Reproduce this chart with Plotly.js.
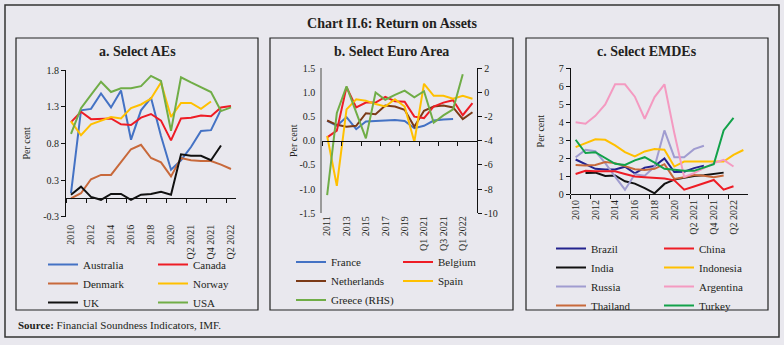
<!DOCTYPE html>
<html><head><meta charset="utf-8">
<script src="https://cdn.plot.ly/plotly-3.0.1.min.js"></script>
<style>html,body{margin:0;padding:0;background:#e9e8ee;}#chart{width:784px;height:345px;}</style>
</head><body><div id="chart"></div>
<script>
// ---------- Panel a: Select AEs ----------
const catsA = ['2010','2011','2012','2013','2014','2015','2016','2017','2018','2019','2020','Q1 2021','Q2 2021','Q3 2021','Q4 2021','Q1 2022','Q2 2022'];
const labelsA = ['2010','2012','2014','2016','2018','2020','Q2 2021','Q4 2021','Q2 2022'];
const australia = [0.07,1.20,1.22,1.43,1.24,1.47,0.80,1.20,1.37,0.85,0.39,0.52,0.70,0.92,0.93,1.21,null];
const canada    = [1.04,1.18,1.08,1.09,1.09,1.01,1.00,1.10,1.15,1.06,0.79,1.09,1.10,1.13,1.12,1.24,1.26];
const denmark   = [0.00,0.07,0.26,0.32,0.32,0.50,0.67,0.73,0.55,0.49,0.30,0.55,0.52,0.51,0.51,0.46,0.40];
const norway    = [1.05,0.86,1.01,1.06,1.11,1.09,1.23,1.28,1.36,1.58,1.11,1.30,1.30,1.22,1.32,null,null];
const uk        = [0.05,0.16,0.02,-0.02,0.06,0.06,-0.02,0.05,0.06,0.09,0.05,0.60,0.58,0.58,0.52,0.72,null];
const usa       = [0.88,1.23,1.41,1.59,1.45,1.50,1.50,1.53,1.67,1.60,0.92,1.65,1.58,1.52,1.45,1.19,1.24];
const yTicksA = [-0.25,0.25,0.75,1.25,1.75];
const yTextA  = ['-0.3','0.3','0.8','1.3','1.8'];

// ---------- Panel b: Select Euro Area ----------
const catsB = ['2011','2012','2013','2014','2015','2016','2017','2018','2019','2020','Q1 2021','Q2 2021','Q3 2021','Q4 2021','Q1 2022','Q2 2022'];
const labelsB = ['2011','2013','2015','2017','2019','Q1 2021','Q3 2021','Q1 2022'];
const france      = [0.41,0.31,0.49,0.24,0.40,0.41,0.42,0.43,0.41,0.26,0.31,0.42,0.44,0.45,null,null];
const belgium     = [0.07,0.21,1.11,0.69,0.79,0.79,0.91,0.82,0.81,0.50,0.47,0.71,0.79,0.84,0.53,0.78];
const netherlands = [0.42,0.33,0.29,0.31,0.57,0.55,0.73,0.71,0.64,0.29,0.62,0.71,0.73,0.69,0.45,0.59];
const spain       = [0.10,-0.93,0.65,0.86,0.83,0.76,0.71,0.86,0.71,-0.02,1.18,0.93,0.93,0.87,0.93,0.87];
const greece      = [-8.5,-1.7,0.5,-1.6,-3.8,0.0,-0.6,-0.2,0.15,-0.4,0.1,-2.5,-1.9,-1.4,1.5,null];
const yTicksB  = [-1.5,-1.0,-0.5,0.0,0.5,1.0,1.5];
const yTextB   = ['-1.5','-1.0','-0.5','0.0','0.5','1.0','1.5'];
const yTicksB2 = [-10,-8,-6,-4,-2,0,2];

// ---------- Panel c: Select EMDEs ----------
const catsC = ['2010','2011','2012','2013','2014','2015','2016','2017','2018','2019','2020','Q1 2021','Q2 2021','Q3 2021','Q4 2021','Q1 2022','Q2 2022','Q3 2022'];
const labelsC = ['2010','2012','2014','2016','2018','2020','Q2 2021','Q4 2021','Q2 2022'];
const brazil    = [1.92,1.66,1.40,1.37,1.37,1.52,1.15,1.47,1.56,1.98,1.22,1.24,1.44,1.58,null,null,null,null];
const china     = [1.11,1.29,1.27,1.27,1.26,1.11,0.97,0.93,0.90,0.86,0.76,0.24,0.42,0.60,0.78,0.24,0.43,null];
const india     = [null,1.17,1.19,1.00,1.03,0.71,0.58,0.33,0.04,0.56,0.80,0.91,1.00,1.04,1.12,1.19,null,null];
const indonesia = [2.61,2.84,3.05,3.02,2.71,2.33,2.09,2.37,2.50,2.46,1.53,1.81,1.81,1.85,1.85,1.81,2.18,2.45];
const russia    = [2.05,2.46,2.38,1.72,0.97,0.24,1.10,1.02,1.52,3.54,2.05,2.05,2.50,2.69,null,null,null,null];
const argentina = [3.99,3.91,4.35,4.99,6.11,6.11,5.42,4.19,5.40,6.11,3.40,0.95,1.16,1.44,1.72,1.90,1.53,null];
const thailand  = [1.62,1.59,1.62,1.78,1.72,1.53,1.38,1.34,1.40,1.66,0.84,0.93,1.06,1.01,0.93,1.03,null,null];
const turkey    = [3.02,2.28,2.33,2.00,1.68,1.62,1.87,2.05,1.75,1.40,1.34,1.29,1.29,1.47,1.66,3.54,4.24,null];

// ---------- styling / layout helpers ----------
const W = 784, H = 345;
const FONT = 'Liberation Serif, Times New Roman, serif';
const TXT = '#231f20';
const px = v => v / W, py = v => 1 - v / H;

const dom = {
  a: {x: [px(66), px(236)],    y: [py(216.7), py(70)]},
  b: {x: [px(322.3), px(477.3)], y: [py(213.3), py(68.3)]},
  c: {x: [px(570.7), px(748.3)], y: [py(194), py(68.3)]}
};

const traces = [];
function line(name, cats, ys, color, xa, ya, leg) {
  traces.push({type:'scatter', mode:'lines', name:name, x:cats, y:ys,
    xaxis:xa, yaxis:ya, legend:leg, connectgaps:false,
    line:{color:color, width:2}, hoverinfo:'skip'});
}
// panel a
line('Australia', catsA, australia, '#4472C4', 'x', 'y', 'legend');
line('Denmark',   catsA, denmark,   '#C8693B', 'x', 'y', 'legend');
line('UK',        catsA, uk,        '#111111', 'x', 'y', 'legend');
line('Canada',    catsA, canada,    '#EE1C25', 'x', 'y', 'legend2');
line('Norway',    catsA, norway,    '#FFC000', 'x', 'y', 'legend2');
line('USA',       catsA, usa,       '#70AD47', 'x', 'y', 'legend2');
// panel b
line('France',       catsB, france,      '#4472C4', 'x2', 'y2', 'legend3');
line('Netherlands',  catsB, netherlands, '#7B3A17', 'x2', 'y2', 'legend3');
line('Greece (RHS)', catsB, greece,      '#70AD47', 'x2', 'y4', 'legend3');
line('Belgium',      catsB, belgium,     '#EE1C25', 'x2', 'y2', 'legend4');
line('Spain',        catsB, spain,       '#FFC000', 'x2', 'y2', 'legend4');
// panel c
line('Brazil',    catsC, brazil,    '#23238E', 'x3', 'y3', 'legend5');
line('India',     catsC, india,     '#111111', 'x3', 'y3', 'legend5');
line('Russia',    catsC, russia,    '#A09CD0', 'x3', 'y3', 'legend5');
line('Thailand',  catsC, thailand,  '#C8693B', 'x3', 'y3', 'legend5');
line('China',     catsC, china,     '#EE1C25', 'x3', 'y3', 'legend6');
line('Indonesia', catsC, indonesia, '#FFC000', 'x3', 'y3', 'legend6');
line('Argentina', catsC, argentina, '#F49AC1', 'x3', 'y3', 'legend6');
line('Turkey',    catsC, turkey,    '#12A24A', 'x3', 'y3', 'legend6');

// helper (empty) traces so the tick-only category axes are built
function helper(cats, xa, ya) {
  traces.push({type:'scatter', mode:'lines', x:cats, y:cats.map(() => null),
    xaxis:xa, yaxis:ya, showlegend:false, hoverinfo:'skip'});
}
helper(catsA, 'x4', 'y');
helper(catsB, 'x5', 'y2');
helper(catsC, 'x6', 'y3');

const tickFont = {family:FONT, size:10, color:TXT};

function labelAxis(d, anchor, cats, labels, standoff) {
  return {domain:d.x, anchor:anchor, type:'category', categoryorder:'array', categoryarray:cats,
    range:[-0.5, cats.length - 0.5], tickmode:'array', tickvals:labels, ticktext:labels,
    tickangle:-90, ticks:'', showline:false, showgrid:false, zeroline:false,
    tickfont:tickFont, ticklabelstandoff:standoff, fixedrange:true};
}
function tickAxis(over, cats, pos) {
  return {overlaying:over, anchor:'free', position:pos, type:'category', categoryorder:'array', categoryarray:cats,
    range:[-0.5, cats.length - 0.5], tickson:'boundaries', ticks:'outside', ticklen:4,
    tickcolor:'#111', showticklabels:false, showline:true, linecolor:'#111', linewidth:1,
    showgrid:false, zeroline:false, fixedrange:true};
}
function yAxis(d, anchor, range, tv, tt, extra) {
  return Object.assign({domain:d.y, anchor:anchor, range:range, tickmode:'array',
    tickvals:tv, ticktext:tt, ticks:'outside', ticklen:4, tickcolor:'#111',
    showline:true, linecolor:'#111', linewidth:1, showgrid:false, zeroline:false,
    tickfont:tickFont, fixedrange:true}, extra || {});
}
const yTitle = s => ({text:'Per cent', standoff:s, font:{family:FONT, size:10, color:TXT}});

const zeroA = dom.a.y[0] + (0 - (-0.25)) / 2 * (dom.a.y[1] - dom.a.y[0]);
const zeroB = dom.b.y[0] + 0.5 * (dom.b.y[1] - dom.b.y[0]);

function legendAt(xpx, topPx) {
  return {x:px(xpx), y:py(topPx), xanchor:'left', yanchor:'top', orientation:'v',
    bgcolor:'rgba(0,0,0,0)', borderwidth:0, font:{family:FONT, size:11, color:TXT},
    traceorder:'normal'};
}

const layout = {
  width:W, height:H, margin:{l:0, r:0, t:0, b:0},
  paper_bgcolor:'#e9e8ee', plot_bgcolor:'rgba(0,0,0,0)',
  font:{family:FONT, color:TXT},
  showlegend:true,
  title:{text:'Chart II.6: Return on Assets', x:0.5, xanchor:'center', xref:'paper',
    y:py(23), yanchor:'middle', yref:'paper',
    font:{family:FONT, size:14, weight:'bold', color:TXT}},
  xaxis:  labelAxis(dom.a, 'y',  catsA, labelsA, 5),
  xaxis2: labelAxis(dom.b, 'y2', catsB, labelsB, 0),
  xaxis3: labelAxis(dom.c, 'y3', catsC, labelsC, 3),
  xaxis4: tickAxis('x', catsA, zeroA),
  xaxis5: tickAxis('x2', catsB, zeroB),
  xaxis6: tickAxis('x3', catsC, dom.c.y[0]),
  yaxis:  yAxis(dom.a, 'x', [-0.25, 1.75], yTicksA, yTextA, {title:yTitle(10)}),
  yaxis2: yAxis(dom.b, 'x2', [-1.5, 1.5], yTicksB, yTextB,
    {linecolor:'#9a9a9a', linewidth:2, ticks:'', ticklabelstandoff:3, title:yTitle(0)}),
  yaxis4: {overlaying:'y2', side:'right', anchor:'x2', range:[-10, 2], tickmode:'array',
    tickvals:yTicksB2, ticktext:yTicksB2.map(String), ticks:'outside', ticklen:4, tickcolor:'#111',
    showline:true, linecolor:'#111', linewidth:1, showgrid:false, zeroline:false,
    tickfont:tickFont, fixedrange:true},
  yaxis3: yAxis(dom.c, 'x3', [0, 7], [0,1,2,3,4,5,6,7], ['0','1','2','3','4','5','6','7'],
    {title:yTitle(12)}),
  legend:  legendAt(43, 250),
  legend2: legendAt(153, 250),
  legend3: legendAt(291, 247.5),
  legend4: legendAt(398, 247.5),
  legend5: legendAt(551, 234),
  legend6: legendAt(659, 234),
  annotations: [
    {text:'<b>a. Select AEs</b>', x:px(137), y:py(52), xref:'paper', yref:'paper', showarrow:false,
     xanchor:'center', yanchor:'middle', font:{family:FONT, size:14, color:TXT}},
    {text:'<b>b. Select Euro Area</b>', x:px(391.5), y:py(52), xref:'paper', yref:'paper', showarrow:false,
     xanchor:'center', yanchor:'middle', font:{family:FONT, size:14, color:TXT}},
    {text:'<b>c. Select EMDEs</b>', x:px(647), y:py(52), xref:'paper', yref:'paper', showarrow:false,
     xanchor:'center', yanchor:'middle', font:{family:FONT, size:14, color:TXT}},
    {text:'<b>Source:</b> Financial Soundness Indicators, IMF.', x:px(16), y:py(325), xref:'paper', yref:'paper',
     showarrow:false, xanchor:'left', yanchor:'middle', font:{family:FONT, size:11, color:TXT}}
  ],
  shapes: [
    {type:'rect', xref:'paper', yref:'paper', x0:px(5), x1:px(779), y0:py(337), y1:py(5), line:{color:'#333', width:1.5}},
    {type:'rect', xref:'paper', yref:'paper', x0:px(16), x1:px(258), y0:py(310), y1:py(38), line:{color:'#222', width:1.2}},
    {type:'rect', xref:'paper', yref:'paper', x0:px(270), x1:px(513), y0:py(310), y1:py(38), line:{color:'#222', width:1.2}},
    {type:'rect', xref:'paper', yref:'paper', x0:px(526), x1:px(768), y0:py(310), y1:py(38), line:{color:'#222', width:1.2}}
  ]
};

Plotly.newPlot('chart', traces, layout, {staticPlot:true, displayModeBar:false});
</script></body></html>
